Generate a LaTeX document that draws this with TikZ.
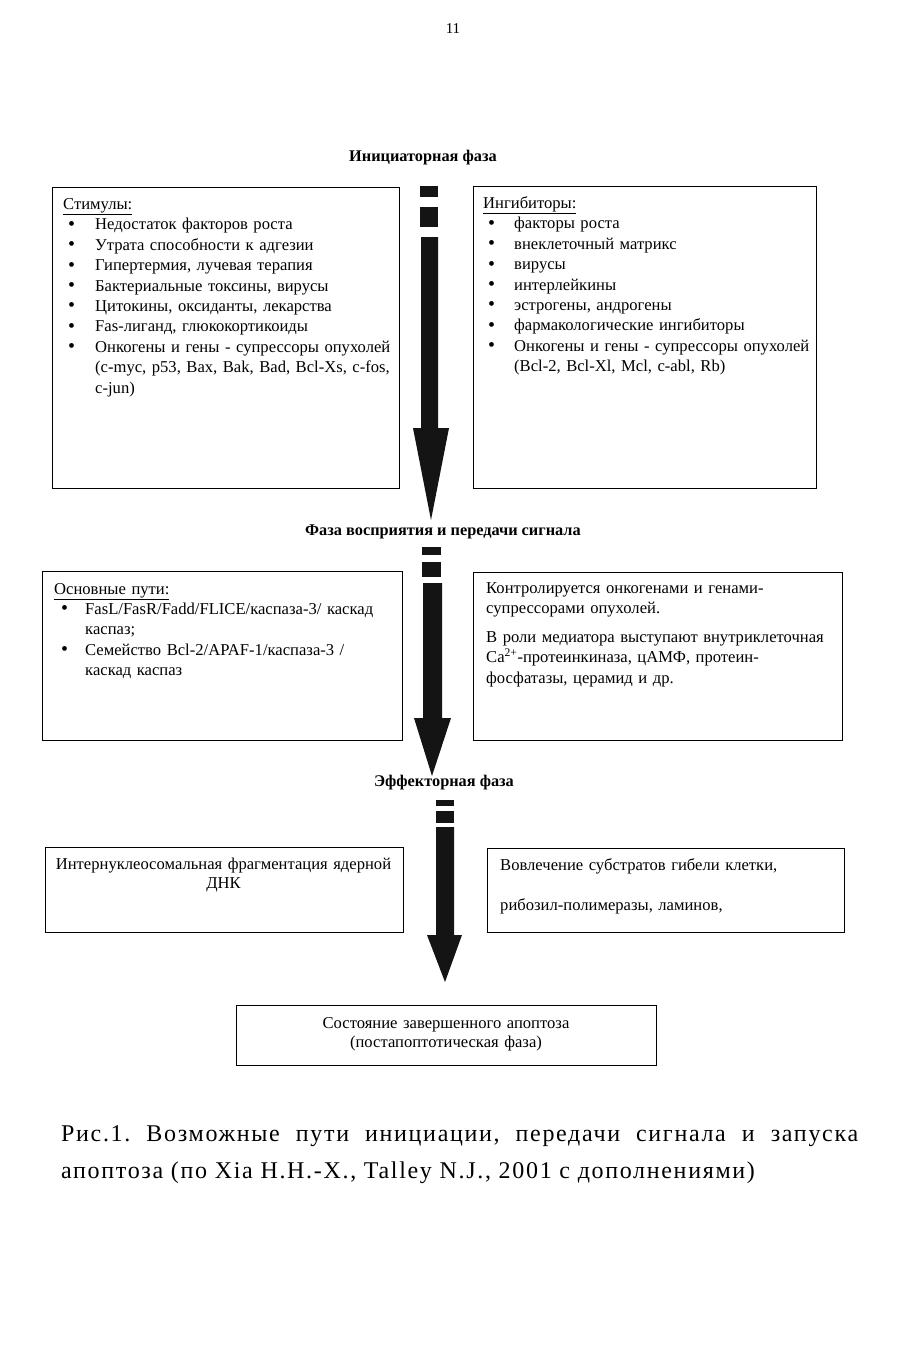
\documentclass[tikz,border=0pt]{standalone}
\usepackage{fontspec}
\setmainfont{Liberation Serif}
\newfontfamily\capfont{Liberation Serif}[LetterSpace=7]
\newcommand\bitem[3][32pt]{\par\noindent\makebox[#1][l]{\hspace{#2}\raisebox{-0.3pt}{\scalebox{1.2}{\textbullet}}}#3}
\newcommand\cont[2][32pt]{\par\noindent\hspace*{#1}#2}
\begin{document}
\frenchspacing
\begin{tikzpicture}[x=1pt,y=-1pt,
  box/.style={draw,line width=1pt},
  txt/.style={anchor=base west,inner sep=0,align=left,text width=420pt,font=\fontsize{16.6}{20.4}\selectfont},
  ctxt/.style={anchor=base,inner sep=0,align=center,text width=420pt,font=\fontsize{16.6}{19.5}\selectfont},
  ttl/.style={anchor=base,inner sep=0,font=\fontsize{16.3}{20}\selectfont\bfseries},
  arr/.style={fill=black!92},
  captxt/.style={anchor=base west,inner sep=0,font=\capfont\fontsize{24}{30}\selectfont}]
\useasboundingbox (0,0) rectangle (900,1350);
\fill[white] (0,0) rectangle (900,1350);

% page number
\node[anchor=base,inner sep=0,font=\fontsize{15}{18}\selectfont] (pg) at (453,33) {11};

% titles
\node[ttl] (t1) at (423,161) {Инициаторная фаза};
\node[ttl] (t2) at (443,535) {Фаза восприятия и передачи сигнала};
\node[ttl] (t3) at (444,786) {Эффекторная фаза};

% boxes
\draw[box] (52,187) rectangle (399,488);
\draw[box] (473,186) rectangle (816,488);
\draw[box] (42,571) rectangle (402,740);
\draw[box] (473,572) rectangle (842,740);
\draw[box] (45,847) rectangle (403,932);
\draw[box] (487,848) rectangle (844,932);
\draw[box] (236,1005) rectangle (656,1065);

% arrows
\fill[arr] (420,186) rectangle (438,197);
\fill[arr] (420,207) rectangle (438,227);
\fill[arr] (421,237) -- (438,237) -- (438,428) -- (449,428) -- (431,520) -- (413,428) -- (421,428) -- cycle;

\fill[arr] (422,547) rectangle (441,555);
\fill[arr] (422,562) rectangle (441,577);
\fill[arr] (423,583) -- (442,583) -- (442,718) -- (451,718) -- (432,776) -- (414,718) -- (423,718) -- cycle;

\fill[arr] (436,800) rectangle (454,806);
\fill[arr] (436,811) rectangle (454,823);
\fill[arr] (436,827) -- (454,827) -- (454,935) -- (462,935) -- (445,982) -- (427,935) -- (436,935) -- cycle;

% box texts
\node[txt] (stim) at (63,209.5) {%
\underline{Стимулы:}
\bitem{5pt}{Недостаток факторов роста}
\bitem{5pt}{Утрата способности к адгезии}
\bitem{5pt}{Гипертермия, лучевая терапия}
\bitem{5pt}{Бактериальные токсины, вирусы}
\bitem{5pt}{Цитокины, оксиданты, лекарства}
\bitem{5pt}{Fas-лиганд, глюкокортикоиды}
\bitem{5pt}{Онкогены и гены - супрессоры опухолей}
\cont{(c-myc, p53, Bax, Bak, Bad, Bcl-Xs, c-fos,}
\cont{c-jun)}};

\node[txt] (inh) at (483,208.5) {%
\underline{Ингибиторы:}
\bitem[31pt]{5pt}{факторы роста}
\bitem[31pt]{5pt}{внеклеточный матрикс}
\bitem[31pt]{5pt}{вирусы}
\bitem[31pt]{5pt}{интерлейкины}
\bitem[31pt]{5pt}{эстрогены, андрогены}
\bitem[31pt]{5pt}{фармакологические ингибиторы}
\bitem[31pt]{5pt}{Онкогены и гены - супрессоры опухолей}
\cont[31pt]{(Bcl-2, Bcl-Xl, Mcl, c-abl, Rb)}};

\node[txt] (path) at (54,594) {%
\underline{Основные пути:}
\bitem[31pt]{7pt}{FasL/FasR/Fadd/FLICE/каспаза-3/ каскад}
\cont[31pt]{каспаз;}
\bitem[31pt]{7pt}{Семейство Bcl-2/APAF-1/каспаза-3 /}
\cont[31pt]{каскад каспаз}};

\node[txt] (ctrl) at (486,593) {%
\noindent Контролируется онкогенами и генами-
\par\noindent супрессорами опухолей.
\par\vspace{8.6pt}\noindent В роли медиатора выступают внутриклеточная
\par\noindent Ca\textsuperscript{2+}-протеинкиназа, цАМФ, протеин-
\par\noindent фосфатазы, церамид и др.};

\node[ctxt] (dna) at (223.5,869) {Интернуклеосомальная фрагментация ядерной\\ДНК};

\node[txt] (subs) at (500,870) {%
\noindent Вовлечение субстратов гибели клетки,
\par\vspace{20.4pt}\noindent рибозил-полимеразы, ламинов,};

\node[ctxt] (fin) at (446,1028) {Состояние завершенного апоптоза\\(постапоптотическая фаза)};

% caption
\node[captxt] (cap1) at (61,1141) {\makebox[797pt][s]{Рис.1. Возможные пути инициации, передачи сигнала и запуска}};
\node[captxt] (cap2) at (61,1178) {апоптоза (по Xia H.H.-X., Talley N.J., 2001 с дополнениями)};
\end{tikzpicture}
\end{document}
